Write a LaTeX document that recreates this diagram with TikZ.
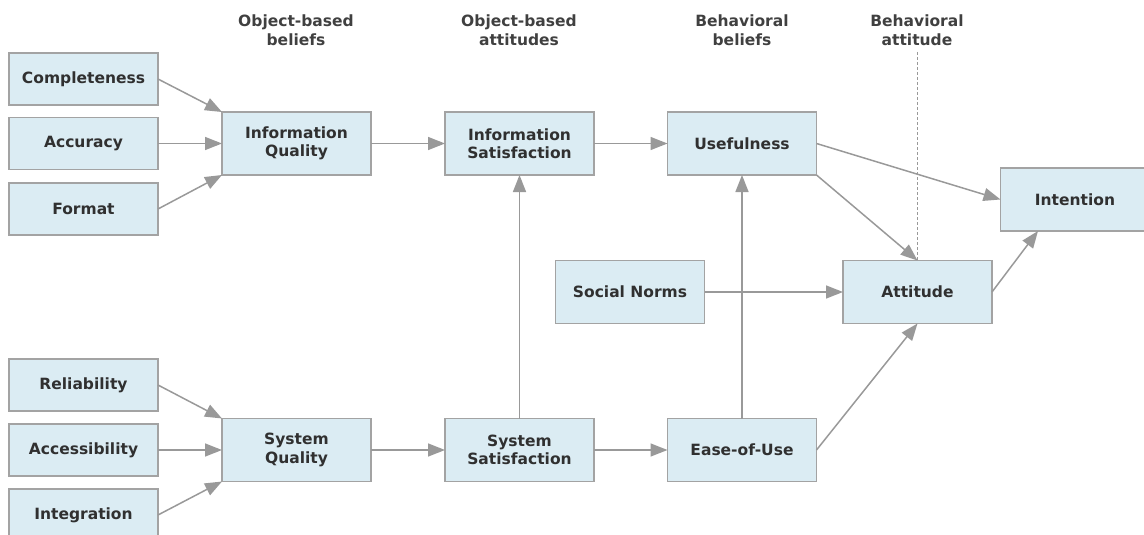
\documentclass[tikz,border=0pt]{standalone}
\usepackage{fontspec}
\setmainfont{DejaVu Sans}
\usetikzlibrary{arrows.meta}
\definecolor{boxfill}{HTML}{DBECF3}
\definecolor{boxline}{HTML}{A3A3A3}
\definecolor{linkgray}{HTML}{999999}
\definecolor{textgray}{HTML}{303030}
\definecolor{headgray}{HTML}{404040}
\tikzset{
  x=1pt, y=-1pt,
  box/.style={draw=boxline, fill=boxfill, line width=1.4pt, text=textgray,
    font=\fontsize{15.5}{18.5}\selectfont\bfseries, align=center,
    minimum width=149pt, inner sep=0pt, outer sep=0pt},
  smallbox/.style={box, minimum height=52pt},
  bigbox/.style={box, minimum height=63pt},
  head/.style={text=headgray, font=\fontsize{15.5}{19.5}\selectfont\bfseries, align=center},
  link/.style={draw=linkgray, line width=1.5pt, -{Triangle[length=17pt, width=13pt]}},
  guide/.style={draw=linkgray, line width=1pt, dash pattern=on 3pt off 2pt}
}
\begin{document}
\begin{tikzpicture}
\useasboundingbox (0,0) rectangle (1144,535);

% column headings
\node[head] (h1) at (296,30) {Object-based\\beliefs};
\node[head] (h2) at (519,30) {Object-based\\attitudes};
\node[head] (h3) at (742,30) {Behavioral\\beliefs};
\node[head] (h4) at (917,30) {Behavioral\\attitude};

% information side
\node[smallbox] (comp) at (83.5,79) {Completeness};
\node[smallbox] (acc)  at (83.5,143.5) {Accuracy};
\node[smallbox] (fmt)  at (83.5,209) {Format};
\node[bigbox] (iq)  at (296.5,143.5) {Information\\Quality};
\node[bigbox] (is)  at (519.5,143.5) {Information\\Satisfaction};
\node[bigbox] (use) at (742,143.5) {Usefulness};

% system side
\node[smallbox] (rel)  at (83.5,385) {Reliability};
\node[smallbox] (accs) at (83.5,450) {Accessibility};
\node[smallbox] (intg) at (83.5,515) {Integration};
\node[bigbox] (sq)  at (296.5,450) {System\\Quality};
\node[bigbox] (ss)  at (519.5,450) {System\\Satisfaction};
\node[bigbox] (eou) at (742,450) {Ease-of-Use};

% behavioural constructs
\node[bigbox] (sn)  at (630,292) {Social Norms};
\node[bigbox] (att) at (917.5,292) {Attitude};
\node[bigbox] (int) at (1075,199.5) {Intention};

% dashed divider above Attitude
\coordinate (dtop) at (917.5,52);
\draw[guide] (dtop) -- (att.north);

% connectors
\draw[link] (comp.east) -- (iq.north west);
\draw[link] (acc.east) -- (iq.west);
\draw[link] (fmt.east) -- (iq.south west);
\draw[link] (iq) -- (is);
\draw[link] (is) -- (use);

\draw[link] (rel.east) -- (sq.north west);
\draw[link] (accs.east) -- (sq.west);
\draw[link] (intg.east) -- (sq.south west);
\draw[link] (sq) -- (ss);
\draw[link] (ss) -- (eou);

\draw[link] (ss.north) -- (is.south);
\draw[link] (eou.north) -- (use.south);

\draw[link] (use.east) -- (int.west);
\draw[link] (use.south east) -- (att.north);
\draw[link] (sn) -- (att);
\draw[link] (eou.east) -- (att.south);
\draw[link] (att.east) -- ([xshift=-37pt]int.south);
\end{tikzpicture}
\end{document}
